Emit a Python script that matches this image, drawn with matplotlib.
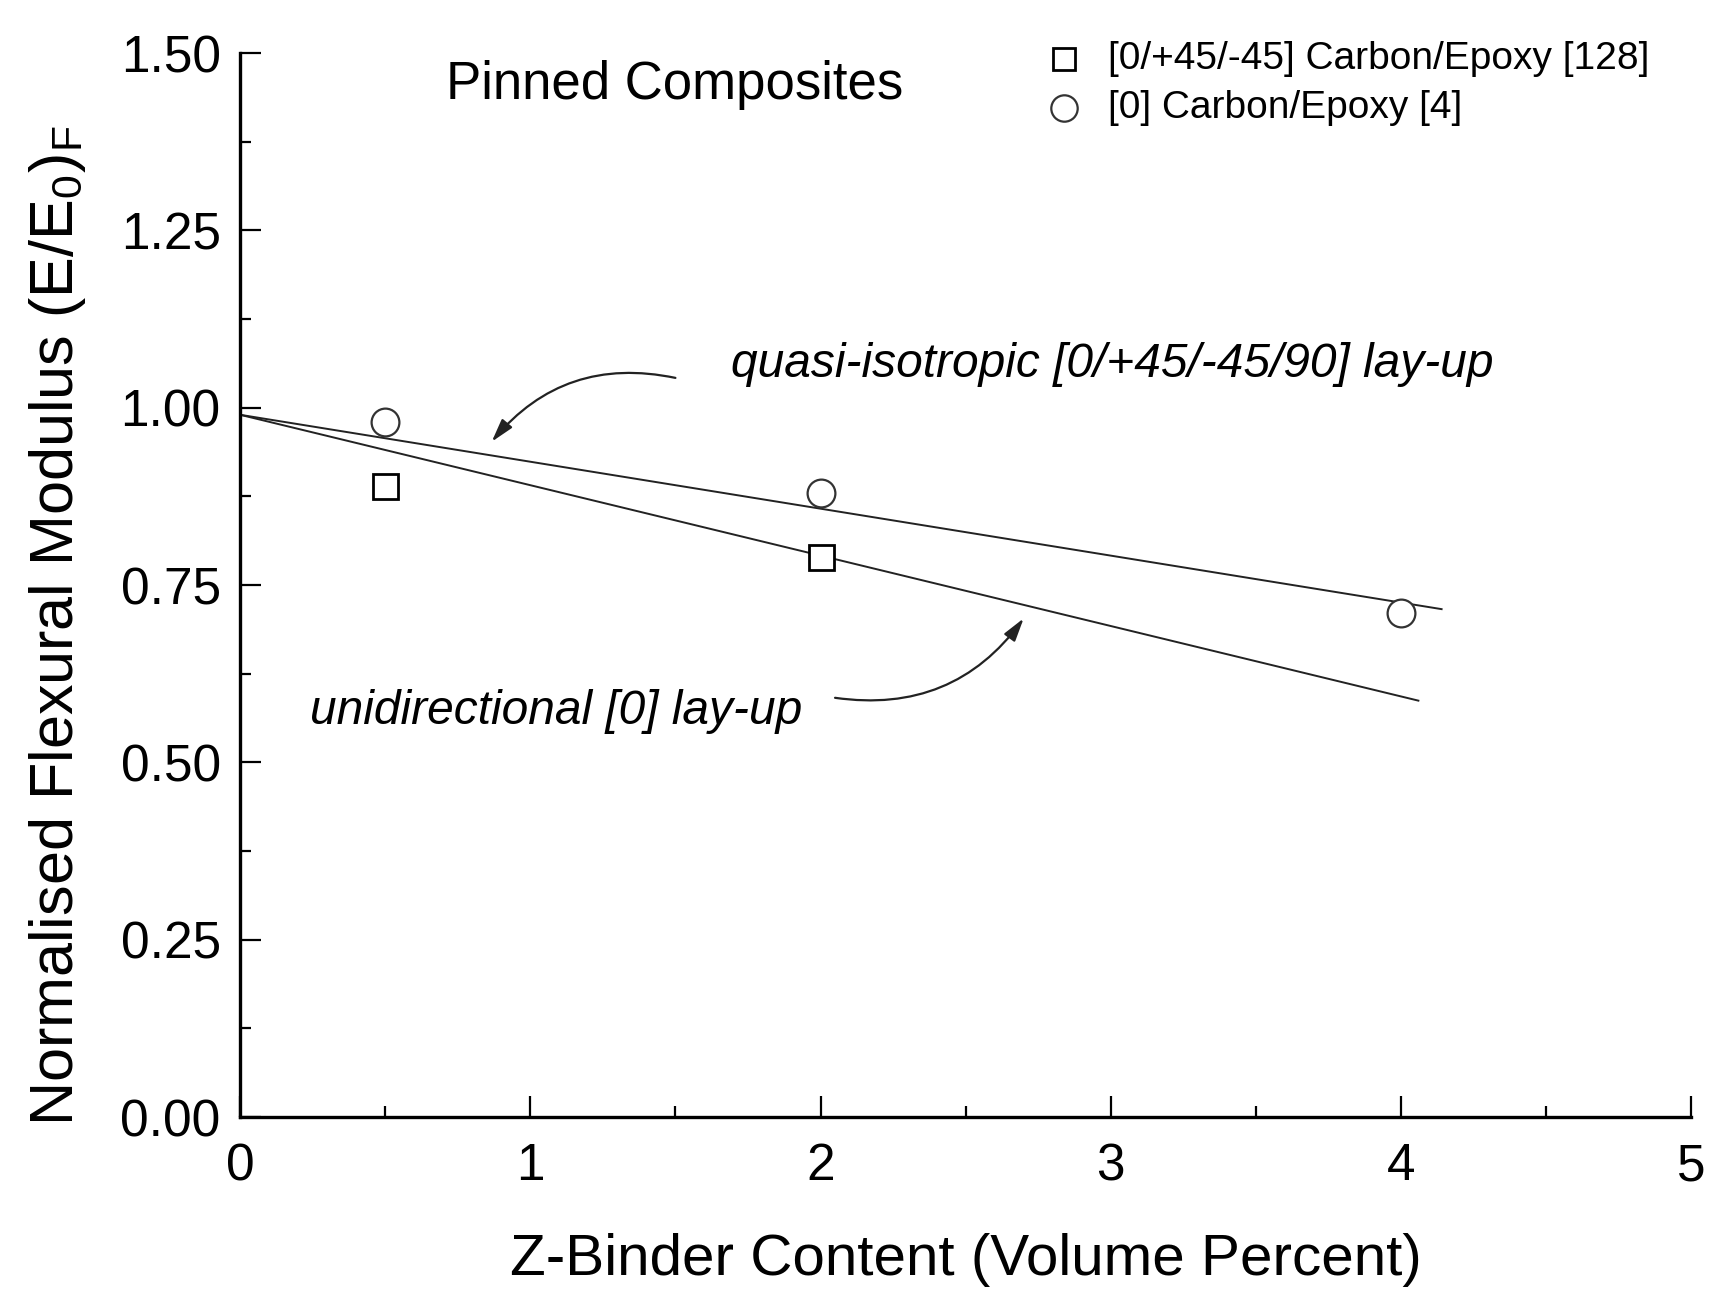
import matplotlib
matplotlib.use('Agg')
import matplotlib.pyplot as plt
from matplotlib.ticker import MultipleLocator

plt.rcParams['font.family'] = ['Liberation Sans', 'DejaVu Sans']
plt.rcParams['mathtext.default'] = 'regular'

# measured points
sq_x = [0.5, 2.0]
sq_y = [0.89, 0.79]
circ_x = [0.5, 2.0, 4.0]
circ_y = [0.98, 0.88, 0.71]

# trend lines (end points)
quasi_x = [0.0, 4.14]
quasi_y = [0.99, 0.716]
uni_x = [0.0, 4.06]
uni_y = [0.99, 0.587]

sq_label = '[0/+45/-45] Carbon/Epoxy [128]'
circ_label = '[0] Carbon/Epoxy [4]'

fig = plt.figure(figsize=(17.31, 13.12), dpi=100)
ax = fig.add_axes([0.1387, 0.1486, 0.977 - 0.1387, 0.9596 - 0.1486])

ax.plot(quasi_x, quasi_y, color='#222222', lw=1.4)
ax.plot(uni_x, uni_y, color='#222222', lw=1.4)
ax.plot(sq_x, sq_y, ls='none', marker='s', ms=18, mfc='white', mec='black', mew=2)
ax.plot(circ_x, circ_y, ls='none', marker='o', ms=20, mfc='white', mec='#333333', mew=1.6)

ax.set_xlim(0, 5)
ax.set_ylim(0, 1.5)
ax.xaxis.set_major_locator(MultipleLocator(1))
ax.xaxis.set_minor_locator(MultipleLocator(0.5))
ax.yaxis.set_major_locator(MultipleLocator(0.25))
ax.yaxis.set_minor_locator(MultipleLocator(0.125))
ax.yaxis.set_major_formatter(matplotlib.ticker.FormatStrFormatter('%.2f'))

for s in ['top', 'right']:
    ax.spines[s].set_visible(False)
for s in ['left', 'bottom']:
    ax.spines[s].set_linewidth(2.4)

ax.tick_params(which='major', direction='in', length=15, width=1.6, labelsize=37)
ax.tick_params(which='minor', direction='in', length=8, width=1.6)
ax.tick_params(axis='x', which='major', pad=18)
ax.tick_params(axis='y', which='major', pad=14)

ax.set_xlabel('Z-Binder Content (Volume Percent)', fontsize=42, labelpad=30)
ax.set_ylabel(r'Normalised Flexural Modulus (E/E$_0$)$_F$', fontsize=44)
ax.yaxis.set_label_coords(-0.105, 0.462)

ax.text(0.71, 1.455, 'Pinned Composites', fontsize=38, va='center', ha='left')

# legend drawn by hand as in the source figure
ax.plot([2.84], [1.492], ls='none', marker='s', ms=16, mfc='white', mec='black', mew=2, clip_on=False)
ax.plot([2.84], [1.422], ls='none', marker='o', ms=19, mfc='white', mec='#333333', mew=1.6, clip_on=False)
ax.text(2.99, 1.492, sq_label, fontsize=28, va='center', ha='left')
ax.text(2.99, 1.422, circ_label, fontsize=28, va='center', ha='left')

ax.text(1.69, 1.061, 'quasi-isotropic [0/+45/-45/90] lay-up', fontsize=34.5,
        style='italic', va='center', ha='left')
ax.text(0.24, 0.571, 'unidirectional [0] lay-up', fontsize=34.5,
        style='italic', va='center', ha='left')

arrow = dict(arrowstyle='-|>,head_length=1.4,head_width=0.4', color='#222222', lw=1.6,
             shrinkA=0, shrinkB=0)
ax.annotate('', xy=(0.867, 0.952), xytext=(1.50, 1.042),
            arrowprops=dict(connectionstyle='arc3,rad=0.3', **arrow))
ax.annotate('', xy=(2.70, 0.703), xytext=(2.05, 0.591),
            arrowprops=dict(connectionstyle='arc3,rad=0.3', **arrow))

fig.savefig('out.png', dpi=100)
